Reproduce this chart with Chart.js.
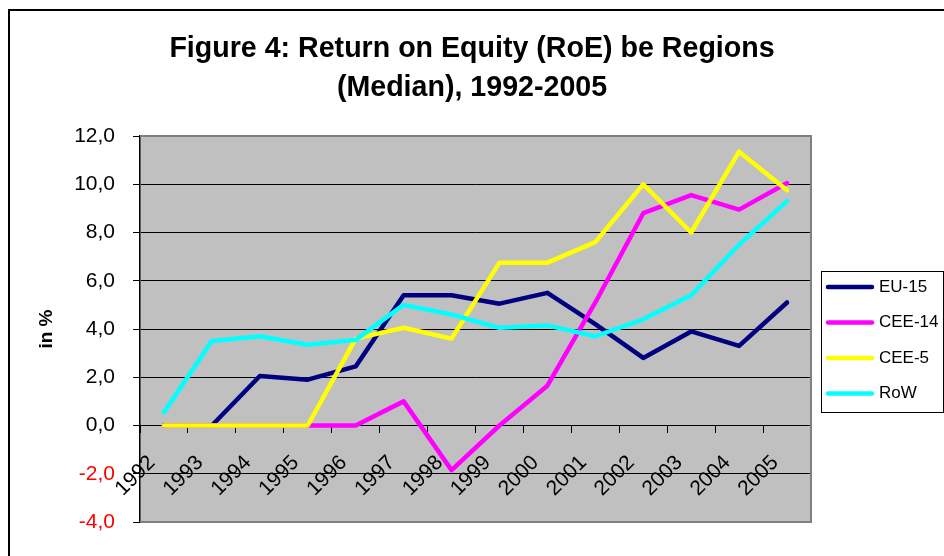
<!DOCTYPE html>
<html>
<head>
<meta charset="utf-8">
<script src="https://cdn.jsdelivr.net/npm/chart.js@4.4.1/dist/chart.umd.min.js"></script>
<style>
  html, body { margin: 0; padding: 0; background: #fff; overflow: hidden; }
  #frame { position: absolute; left: 8px; top: 9px; width: 2000px; height: 2000px;
           border-left: 2px solid #000; border-top: 2px solid #000; }
  #wrap { position: absolute; left: 0; top: 0; width: 944px; height: 556px; }
</style>
</head>
<body>
<div id="frame"></div>
<div id="wrap"><canvas id="myChart" width="944" height="556"></canvas></div>
<script>
// values
var years = ['1992','1993','1994','1995','1996','1997','1998','1999','2000','2001','2002','2003','2004','2005']
var eu15  = [0, 0, 2.05, 1.9, 2.45, 5.4, 5.4, 5.05, 5.5, 4.2, 2.8, 3.9, 3.3, 5.1]
var cee14 = [0, 0, 0, 0, 0, 1.0, -1.85, 0.0, 1.65, 5.1, 8.8, 9.55, 8.95, 10.05]
var cee5  = [0, 0, 0, 0, 3.6, 4.05, 3.6, 6.75, 6.75, 7.6, 10.0, 8.0, 11.35, 9.75]
var roW   = [0.55, 3.5, 3.7, 3.35, 3.55, 5.0, 4.6, 4.05, 4.15, 3.7, 4.4, 5.4, 7.5, 9.3]
var seriesNames = ['EU-15', 'CEE-14', 'CEE-5', 'RoW']
var yMin = -4, yMax = 12, yStep = 2

var FONT = "'Liberation Sans', Arial, sans-serif"

var plotBg = {
	id: 'plotBg',
	beforeDraw: function(chart){
		var a = chart.chartArea, ctx = chart.ctx
		ctx.save()
		ctx.fillStyle = '#c0c0c0'
		ctx.fillRect(a.left, a.top, a.right - a.left, a.bottom - a.top)
		ctx.restore()
	},
	beforeDatasetsDraw: function(chart){
		var a = chart.chartArea, ctx = chart.ctx
		ctx.save()
		ctx.strokeStyle = '#808080'
		ctx.lineWidth = 2
		ctx.beginPath()
		ctx.moveTo(a.left, a.top)
		ctx.lineTo(a.right, a.top)
		ctx.lineTo(a.right, a.bottom)
		ctx.lineTo(a.left, a.bottom)
		ctx.stroke()
		ctx.restore()
	}
}

// boxed legend to the right of the plot
var boxLegend = {
	id: 'boxLegend',
	afterDraw: function(chart){
		var ctx = chart.ctx
		var x0 = chart.chartArea.right + 10, y0 = 271, w = 122, h = 141
		ctx.save()
		ctx.fillStyle = '#fff'
		ctx.fillRect(x0, y0, w, h)
		ctx.strokeStyle = '#000'
		ctx.lineWidth = 1
		ctx.strokeRect(x0 + 0.5, y0 + 0.5, w, h)
		ctx.font = '17px ' + FONT
		ctx.textBaseline = 'middle'
		ctx.textAlign = 'left'
		chart.data.datasets.forEach(function(ds, i){
			var y = y0 + 16 + i * 35.5
			ctx.strokeStyle = ds.borderColor
			ctx.lineWidth = 4.5
			ctx.lineCap = 'round'
			ctx.beginPath()
			ctx.moveTo(x0 + 7, y)
			ctx.lineTo(x0 + 51, y)
			ctx.stroke()
			ctx.fillStyle = '#000'
			ctx.fillText(ds.label, x0 + 58, y)
		})
		ctx.restore()
	}
}

var myChart = document.getElementById('myChart').getContext('2d')
var chart = new Chart(myChart, {
	type: 'line',
	data: {
		labels: years,
		datasets: [
			{ label: seriesNames[0], data: eu15,  borderColor: '#000080', order: 4 },
			{ label: seriesNames[1], data: cee14, borderColor: '#ff00ff', order: 3 },
			{ label: seriesNames[2], data: cee5,  borderColor: '#ffff00', order: 2 },
			{ label: seriesNames[3], data: roW,   borderColor: '#00ffff', order: 1 }
		]
	},
	options: {
		responsive: false,
		animation: false,
		events: [],
		elements: {
			line: { borderWidth: 4.5, tension: 0, borderJoinStyle: 'round', borderCapStyle: 'round', fill: false },
			point: { radius: 0 }
		},
		layout: { padding: { top: 0, left: 0, right: 0, bottom: 34 } },
		plugins: {
			legend: { display: false },
			tooltip: { enabled: false },
			title: {
				display: true,
				text: ['Figure 4: Return on Equity (RoE) be Regions', '(Median), 1992-2005'],
				color: '#000',
				font: { family: FONT, size: 28.6, weight: 'bold', lineHeight: 1.364 },
				padding: { top: 30, bottom: 28 }
			}
		},
		scales: {
			x: {
				type: 'category',
				position: { y: 0 },
				offset: true,
				grid: { display: true, drawOnChartArea: false, drawTicks: true, tickLength: 7, color: '#000', offset: true },
				border: { display: true, color: '#000', width: 1 },
				ticks: {
					autoSkip: false, minRotation: 45, maxRotation: 45,
					color: '#000', font: { family: FONT, size: 21 }, padding: 18, labelOffset: -12
				},
				afterFit: function(s){ s.height = 0; s.paddingLeft = 0; s.paddingRight = 0 }
			},
			y: {
				position: 'left',
				min: yMin, max: yMax,
				ticks: {
					stepSize: yStep,
					padding: 18,
					font: { family: FONT, size: 21 },
					color: function(c){ return c.tick.value < 0 ? '#ff0000' : '#000' },
					callback: function(v){ return v.toFixed(1).replace('.', ',') }
				},
				grid: { color: '#000', lineWidth: 1, tickLength: 7, drawTicks: true },
				border: { display: true, color: '#000', width: 1.5 },
				title: {
					display: true, text: 'in %', color: '#000',
					font: { family: FONT, size: 19, weight: 'bold' },
					padding: { top: 35.6, bottom: 0 }
				},
				afterFit: function(s){ s.width = 140 }
			},
			y2: {
				position: 'right',
				display: true,
				grid: { display: false },
				border: { display: false },
				ticks: { display: false },
				afterFit: function(s){ s.width = 133 }
			}
		}
	},
	plugins: [plotBg, boxLegend]
})
</script>
</body>
</html>
